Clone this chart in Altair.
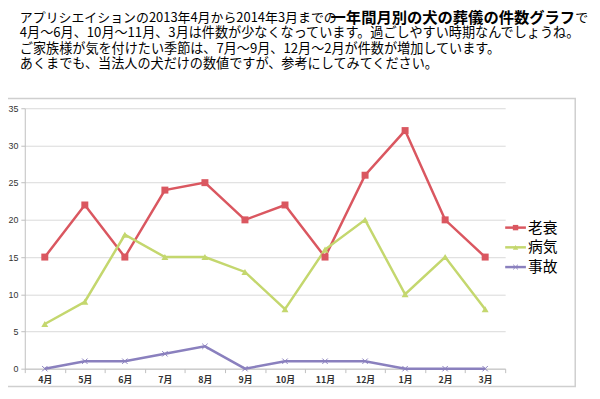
import altair as alt
import pandas as pd

months = ["4月", "5月", "6月", "7月", "8月", "9月", "10月", "11月", "12月", "1月", "2月", "3月"]
rousui = [15, 22, 15, 24, 25, 20, 22, 15, 26, 32, 20, 15]
byouki = [6, 9, 18, 15, 15, 13, 8, 16, 20, 10, 15, 8]
jiko = [0, 1, 1, 2, 3, 0, 1, 1, 1, 0, 0, 0]
series = ["老衰", "病気", "事故"]
colors = ["#DA5760", "#C4D76E", "#8A80BE"]
y_ticks = [0, 5, 10, 15, 20, 25, 30, 35]

text_lines = [
    "4月～6月、10月～11月、3月は件数が少なくなっています。過ごしやすい時期なんでしょうね。",
    "ご家族様が気を付けたい季節は、7月～9月、12月～2月が件数が増加しています。",
    "あくまでも、当法人の犬だけの数値ですが、参考にしてみてください。",
]
line1_normal = "アプリシエイションの2013年4月から2014年3月までの"
line1_bold = "一年間月別の犬の葬儀の件数グラフ"
line1_tail = "で"

rows = []
for s, vals in zip(series, [rousui, byouki, jiko]):
    for m, v in zip(months, vals):
        rows.append({"month": m, "series": s, "count": v})
df = pd.DataFrame(rows)
legend_df = pd.DataFrame({"series": series})
one = pd.DataFrame({"k": [0]})

FONT = "Noto Sans CJK JP"
W, H = 487, 264

color = alt.Color("series:N", scale=alt.Scale(domain=series, range=colors), legend=None)
shape_scale = alt.Scale(domain=series, range=["square", "triangle-up", "circle"])
x = alt.X("month:N", sort=months,
          scale=alt.Scale(type="band", paddingInner=0, paddingOuter=0),
          axis=alt.Axis(title=None, labelAngle=0, tickBand="extent", tickSize=4,
                        tickColor="#bfbfbf", domainColor="#bfbfbf", labelPadding=3,
                        labelFont=FONT, labelFontSize=9, labelFontWeight="bold",
                        labelColor="#333333", grid=False))
y = alt.Y("count:Q", scale=alt.Scale(domain=[0, 35], nice=False, zero=True),
          axis=alt.Axis(title=None, values=y_ticks, tickSize=4, tickColor="#bfbfbf",
                        domainColor="#bfbfbf", gridColor="#d9d9d9", labelPadding=3,
                        labelFont="Liberation Sans", labelFontSize=9, labelColor="#333333"))

base = alt.Chart(df)
lines = base.mark_line(strokeWidth=2.5).encode(x=x, y=y, color=color, detail="series:N")
filled = base.transform_filter(alt.datum.series != "事故").mark_point(
    filled=True, opacity=1, size=50).encode(
    x=x, y=y, color=color, shape=alt.Shape("series:N", scale=shape_scale, legend=None))
crosses = base.transform_filter(alt.datum.series == "事故").mark_point(
    shape="M-1,-1L1,1M1,-1L-1,1", filled=False, size=30, strokeWidth=1, opacity=1).encode(
    x=x, y=y, color=color)
main = alt.layer(lines, filled, crosses)

border = alt.Chart(one).mark_rect(fill=None, stroke="#cfcfcf", strokeWidth=1.5).encode(
    x=alt.value(-22), x2=alt.value(558), y=alt.value(-10), y2=alt.value(282))

ly = alt.Y("series:N", sort=series, scale=alt.Scale(type="point", range=[121, 161], padding=0), axis=None)
lchart = alt.Chart(legend_df)
leg_rule = lchart.mark_rule(strokeWidth=2.5).encode(x=alt.value(487), x2=alt.value(508), y=ly, color=color)
leg_fill = lchart.transform_filter(alt.datum.series != "事故").mark_point(
    filled=True, opacity=1, size=30).encode(
    x=alt.value(497.5), y=ly, color=color, shape=alt.Shape("series:N", scale=shape_scale, legend=None))
leg_cross = lchart.transform_filter(alt.datum.series == "事故").mark_point(
    shape="M-1,-1L1,1M1,-1L-1,1", filled=False, size=22, strokeWidth=1, opacity=1).encode(
    x=alt.value(497.5), y=ly, color=color)
leg_text = lchart.mark_text(align="left", baseline="middle", font=FONT, fontSize=15, color="#000000").encode(
    x=alt.value(510), y=ly, text="series:N")
legend = alt.layer(leg_rule, leg_fill, leg_cross, leg_text)


def txt(t, xv, yv, size=13.3, weight="normal"):
    return alt.Chart(one).mark_text(align="left", baseline="middle", font=FONT, fontSize=size,
                                    fontWeight=weight, color="#000000").encode(
        x=alt.value(xv), y=alt.value(yv), text=alt.value(t))


texts = [
    txt(line1_normal, -5, -91.5, 13.1),
    txt(line1_bold, 310, -91.5, 15.5, "bold"),
    txt(line1_tail, 558, -91.5, 13.1),
]
for i, t in enumerate(text_lines):
    texts.append(txt(t, -5, -76 + 15.5 * i))

chart = alt.layer(border, main, legend, *texts).resolve_scale(
    y="independent").properties(
    width=W, height=H, autosize=alt.AutoSizeParams(type="none"),
    padding={"left": 17, "top": 99, "right": 88, "bottom": 20},
    background="white",
).configure_view(stroke=None)

chart.save("out.html", embed_options={"renderer": "svg", "actions": False})
